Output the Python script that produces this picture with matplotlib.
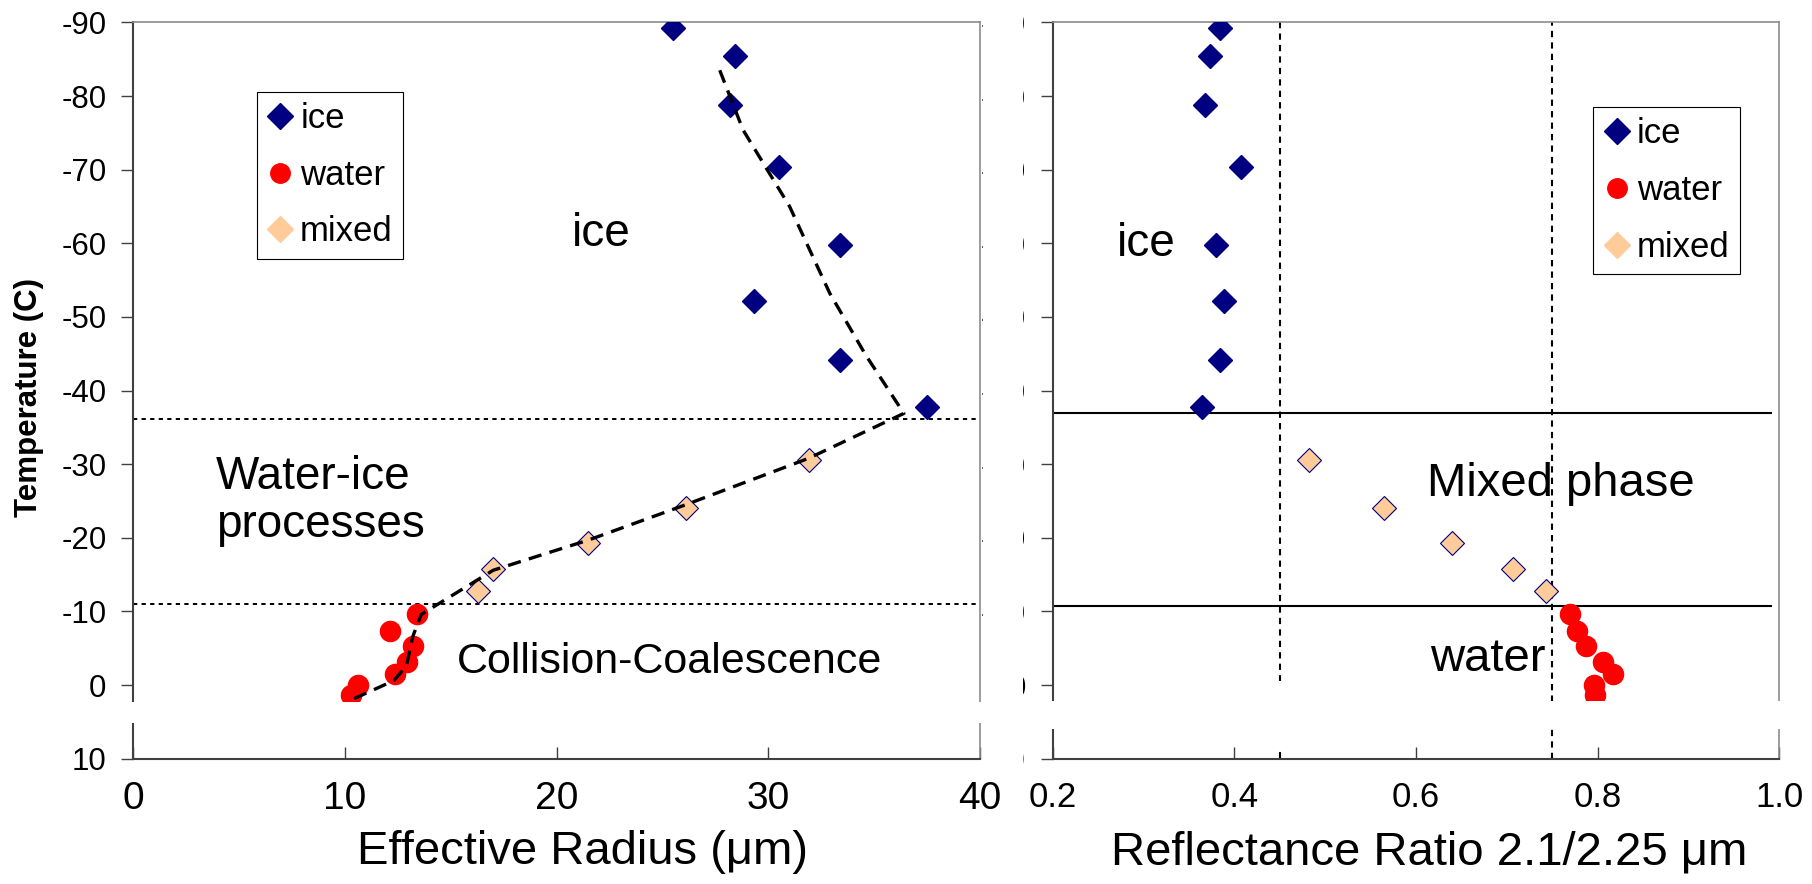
import matplotlib.pyplot as plt
from matplotlib.lines import Line2D
from matplotlib.patches import Rectangle

plt.rcParams['font.family'] = ['Liberation Sans', 'DejaVu Sans']
plt.rcParams['axes.unicode_minus'] = False

# temperatures (C), shared by both panels
ice_temp = [-89.3, -85.5, -78.8, -70.4, -59.8, -52.1, -44.1, -37.7]
mixed_temp = [-30.6, -24.0, -19.3, -15.7, -12.8]
water_temp = [-9.6, -7.4, -5.3, -3.2, -1.5, 0.0, 1.3]

# effective radius (um), left panel
ice_reff = [25.5, 28.4, 28.2, 30.5, 33.4, 29.3, 33.4, 37.5]
mixed_reff = [31.9, 26.1, 21.5, 17.0, 16.3]
water_reff = [13.4, 12.1, 13.2, 12.95, 12.35, 10.6, 10.3]

# reflectance ratio 2.1/2.25, right panel
ice_ratio = [0.384, 0.373, 0.368, 0.407, 0.380, 0.388, 0.384, 0.364]
mixed_ratio = [0.482, 0.565, 0.640, 0.707, 0.743]
water_ratio = [0.770, 0.777, 0.787, 0.806, 0.817, 0.796, 0.797]

# dashed trend through the left panel
trend_reff = [27.7, 28.8, 31.0, 32.9, 34.6, 36.4, 31.9, 26.1, 21.5, 17.0, 13.6, 13.2, 12.9, 12.3, 10.3]
trend_temp = [-83.5, -75.4, -65.0, -53.2, -44.8, -36.9, -30.8, -24.5, -19.7, -15.6, -9.6, -6.6, -2.6, -0.6, 2.0]

# phase boundaries
left_bounds = [-36.2, -11.0]
right_bounds = [-37.0, -10.8]
ratio_bounds = [0.45, 0.75]

temp_ticks = [-90, -80, -70, -60, -50, -40, -30, -20, -10, 0, 10]
reff_ticks = [0, 10, 20, 30, 40]
ratio_ticks = [0.2, 0.4, 0.6, 0.8, 1.0]

NAVY = '#000080'
RED = '#ff0000'
PEACH = '#ffcc99'


def style(ax):
    ax.set_ylim(10, -90)
    ax.set_yticks(temp_ticks)
    ax.set_yticklabels([str(t) for t in temp_ticks])
    for s in ['top', 'right']:
        ax.spines[s].set_color('#8c8c8c')
        ax.spines[s].set_linewidth(1.2)
    for s in ['left', 'bottom']:
        ax.spines[s].set_color('#404040')
        ax.spines[s].set_linewidth(1.5)
    ax.tick_params(axis='y', direction='out', length=8.4, width=1, color='#404040',
                   labelsize=22.5, pad=11)
    ax.tick_params(axis='x', direction='in', length=8.4, width=1, color='#404040', pad=16)


def points(ax, x_ice, x_mixed, x_water):
    ax.plot(x_ice, ice_temp, ls='none', marker='D', ms=12, color=NAVY, zorder=3)
    ax.plot(x_water, water_temp, ls='none', marker='o', ms=14.5, color=RED, zorder=3)
    ax.plot(x_mixed, mixed_temp, ls='none', marker='D', ms=12, mfc=PEACH, mec=NAVY, mew=0.8, zorder=3)


def legend(ax, x, y):
    handles = [
        Line2D([], [], ls='none', marker='D', ms=13, color=NAVY),
        Line2D([], [], ls='none', marker='o', ms=14, color=RED),
        Line2D([], [], ls='none', marker='D', ms=13, color=PEACH),
    ]
    leg = ax.legend(handles, ['ice', 'water', 'mixed'], loc='upper left', bbox_to_anchor=(x, y),
                    borderaxespad=0, fontsize=25, frameon=True, fancybox=False, framealpha=1,
                    borderpad=0.3, labelspacing=0.68, handlelength=0.75, handletextpad=0.2)
    leg.get_frame().set_edgecolor('black')
    leg.get_frame().set_linewidth(0.8)


def axis_break(ax, lo, hi):
    ax.add_patch(Rectangle((-0.02, lo), 1.04, hi - lo, transform=ax.get_yaxis_transform(),
                           facecolor='white', edgecolor='none', clip_on=False, zorder=5))


fig = plt.figure(figsize=(18.12, 8.84), dpi=100)
ax1 = fig.add_axes([0.0736, 0.1417, 0.4673, 0.8330])
ax2 = fig.add_axes([0.5810, 0.1417, 0.4010, 0.8330])

# ------- left panel: effective radius
style(ax1)
ax1.set_xlim(0, 40)
ax1.set_xticks(reff_ticks)
ax1.tick_params(axis='x', labelsize=28)
for b in left_bounds:
    ax1.axhline(b, color='black', lw=1.4, ls=(0, (2.2, 2.2)), zorder=2)
points(ax1, ice_reff, mixed_reff, water_reff)
ax1.plot(trend_reff, trend_temp, color='black', lw=2.4, ls=(0, (4, 2.5)), zorder=4)
ax1.text(22.1, -61.2, 'ice', fontsize=33, ha='center', va='center')
ax1.text(3.9, -25.0, 'Water-ice\nprocesses', fontsize=33, ha='left', va='center', linespacing=1.1)
ax1.text(15.3, -3.1, 'Collision-Coalescence', fontsize=31, ha='left', va='center')
legend(ax1, 0.1457, 0.9059)
ax1.set_ylabel('Temperature (C)', fontsize=22.5, fontweight='bold')
ax1.yaxis.set_label_coords(-0.106, 0.49)
ax1.set_xlabel('Effective Radius (\u03bcm)', fontsize=34)
ax1.xaxis.set_label_coords(0.531, -0.097)
axis_break(ax1, 2.3, 5.2)

# ------- right panel: reflectance ratio
style(ax2)
ax2.set_xlim(0.2, 1.0)
ax2.set_xticks(ratio_ticks)
ax2.set_xticklabels(['%.1f' % v for v in ratio_ticks])
ax2.tick_params(axis='x', labelsize=25)
# the 0.45 line stops above the break, the 0.75 one runs to the bottom
ax2.plot([ratio_bounds[0]] * 2, [-90, -0.6], color='black', lw=1.5, ls=(0, (3, 2.5)), zorder=2)
ax2.plot([ratio_bounds[0]] * 2, [9.2, 10], color='black', lw=1.5, zorder=2)
ax2.axvline(ratio_bounds[1], color='black', lw=1.5, ls=(0, (3, 2.5)), zorder=2)
for b in right_bounds:
    ax2.plot([0.202, 0.991], [b, b], color='black', lw=1.5, zorder=2)
points(ax2, ice_ratio, mixed_ratio, water_ratio)
ax2.text(0.303, -59.9, 'ice', fontsize=33, ha='center', va='center')
ax2.text(0.759, -27.3, 'Mixed phase', fontsize=34, ha='center', va='center')
ax2.text(0.679, -3.6, 'water', fontsize=34, ha='center', va='center')
legend(ax2, 0.744, 0.885)
ax2.set_xlabel('Reflectance Ratio 2.1/2.25 \u03bcm', fontsize=34)
ax2.xaxis.set_label_coords(0.518, -0.097)
axis_break(ax2, 2.2, 6.0)

# the right panel's tick labels sit behind a white box, only their last sliver shows
fig.add_artist(Rectangle((983 / 1812, 0.125), (1022.5 - 983) / 1812, 0.875, transform=fig.transFigure,
                         facecolor='white', edgecolor='none', zorder=10))

fig.savefig('out.png', dpi=100)
